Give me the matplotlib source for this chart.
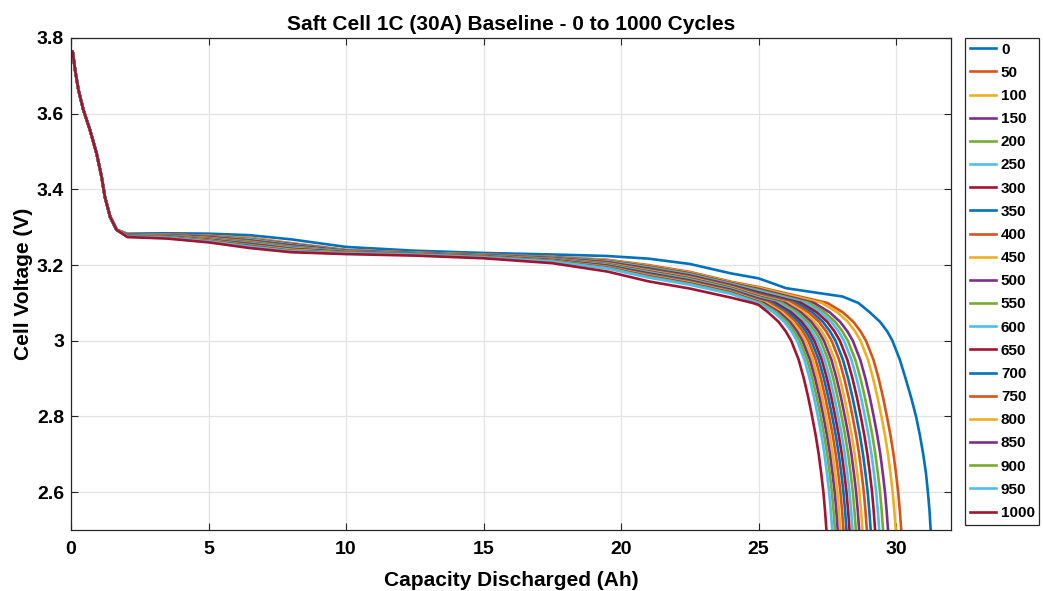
import matplotlib.pyplot as plt
import numpy as np

plt.rcParams['font.family'] = ['Liberation Sans', 'DejaVu Sans']
plt.rcParams['font.weight'] = 'bold'

cycles = [0, 50, 100, 150, 200, 250, 300, 350, 400, 450, 500,
          550, 600, 650, 700, 750, 800, 850, 900, 950, 1000]
colors = ['#0072BD', '#D95319', '#EDB120', '#7E2F8E', '#77AC30', '#4DBEEE', '#A2142F']

# start of the discharge, same for every cycle
head_cap = [0, 0.06, 0.15, 0.27, 0.45, 0.69, 0.93, 1.11, 1.23, 1.42, 1.66]
head_volt = [3.765, 3.764, 3.715, 3.663, 3.610, 3.557, 3.495, 3.434, 3.381, 3.328, 3.293]

# plateau: voltage of each cycle at these capacities (Ah)
plateau_caps = [2.05, 3.5, 5, 6.5, 8, 10, 12.5, 15, 17.5, 19.5, 21, 22.5, 24, 25]
v_2ah = [3.283, 3.282, 3.282, 3.281, 3.281, 3.280, 3.280, 3.280, 3.279, 3.279, 3.279,
         3.278, 3.278, 3.277, 3.277, 3.277, 3.276, 3.276, 3.275, 3.275, 3.274]
v_3ah = [3.284, 3.281, 3.2805, 3.280, 3.2795, 3.279, 3.2785, 3.278, 3.2775, 3.277, 3.2765,
         3.276, 3.2755, 3.275, 3.2745, 3.274, 3.2735, 3.273, 3.2725, 3.272, 3.270]
v_5ah = [3.283, 3.278, 3.277, 3.276, 3.275, 3.274, 3.274, 3.273, 3.272, 3.271, 3.270,
         3.269, 3.268, 3.267, 3.266, 3.266, 3.265, 3.264, 3.263, 3.262, 3.260]
v_6ah = [3.279, 3.272, 3.271, 3.269, 3.268, 3.267, 3.265, 3.264, 3.263, 3.261, 3.260,
         3.259, 3.257, 3.256, 3.255, 3.253, 3.252, 3.251, 3.249, 3.248, 3.245]
v_8ah = [3.268, 3.258, 3.257, 3.256, 3.254, 3.253, 3.252, 3.251, 3.249, 3.248, 3.247,
         3.246, 3.245, 3.243, 3.242, 3.241, 3.240, 3.238, 3.237, 3.236, 3.234]
v_10ah = [3.248, 3.240, 3.2395, 3.239, 3.2385, 3.238, 3.2375, 3.237, 3.2365, 3.236, 3.2355,
          3.235, 3.2345, 3.234, 3.2335, 3.233, 3.2325, 3.232, 3.2315, 3.231, 3.229]
v_12ah = [3.238, 3.233, 3.2327, 3.2323, 3.232, 3.2317, 3.2313, 3.231, 3.2307, 3.2303, 3.230,
          3.2297, 3.2293, 3.229, 3.2287, 3.2283, 3.228, 3.2277, 3.2273, 3.227, 3.225]
v_15ah = [3.232, 3.228, 3.2276, 3.2271, 3.2267, 3.2262, 3.2258, 3.2253, 3.2249, 3.2244, 3.224,
          3.2236, 3.2231, 3.2227, 3.2222, 3.2218, 3.2213, 3.2209, 3.2204, 3.220, 3.218]
v_17ah = [3.228, 3.222, 3.2213, 3.2206, 3.2198, 3.2191, 3.2184, 3.2177, 3.2169, 3.2162, 3.2155,
          3.2148, 3.2141, 3.2133, 3.2126, 3.2119, 3.2112, 3.2104, 3.2097, 3.209, 3.205]
v_19ah = [3.224, 3.214, 3.2127, 3.2114, 3.2102, 3.2089, 3.2076, 3.2063, 3.2051, 3.2038, 3.2025,
          3.2012, 3.1999, 3.1987, 3.1974, 3.1961, 3.1948, 3.1936, 3.1923, 3.191, 3.183]
v_21ah = [3.217, 3.200, 3.1982, 3.1963, 3.1945, 3.1927, 3.1908, 3.189, 3.1872, 3.1853, 3.1835,
          3.1817, 3.1798, 3.178, 3.1762, 3.1743, 3.1725, 3.1707, 3.1688, 3.167, 3.157]
v_22ah = [3.203, 3.182, 3.1801, 3.1782, 3.1763, 3.1744, 3.1726, 3.1707, 3.1688, 3.1669, 3.165,
          3.1631, 3.1612, 3.1593, 3.1574, 3.1556, 3.1537, 3.1518, 3.1499, 3.148, 3.138]
v_24ah = [3.178, 3.156, 3.1542, 3.1524, 3.1507, 3.1489, 3.1471, 3.1453, 3.1436, 3.1418, 3.140,
          3.1382, 3.1364, 3.1347, 3.1329, 3.1311, 3.1293, 3.1276, 3.1258, 3.124, 3.114]
v_25ah = [3.165, 3.142, 3.140, 3.137, 3.134, 3.131, 3.128, 3.125, 3.122, 3.119, 3.117,
          3.115, 3.113, 3.111, 3.109, 3.107, 3.105, 3.103, 3.101, 3.099, 3.095]
plateau_volts = [v_2ah, v_3ah, v_5ah, v_6ah, v_8ah, v_10ah, v_12ah, v_15ah, v_17ah,
                 v_19ah, v_21ah, v_22ah, v_24ah, v_25ah]

# cycle 0 keeps a shoulder past 25 Ah
shoulder_cap = [26.0, 27.2, 28.05]
shoulder_volt = [3.139, 3.126, 3.117]

# tail: capacity (Ah) where each cycle reaches these voltages
tail_volts = [3.10, 3.075, 3.05, 3.025, 3.0, 2.95, 2.9, 2.85, 2.8, 2.75, 2.7, 2.65,
              2.6, 2.55, 2.5]
cap_310 = [28.63, 27.50, 27.30, 27.02, 26.84, 26.70, 26.55, 26.39, 26.25, 26.09, 25.97,
           25.85, 25.73, 25.62, 25.51, 25.40, 25.29, 25.19, 25.09, 24.99, 24.78]
cap_3075 = [29.05, 28.07, 27.87, 27.59, 27.41, 27.27, 27.12, 26.96, 26.82, 26.66, 26.54,
            26.42, 26.30, 26.19, 26.08, 25.97, 25.86, 25.76, 25.66, 25.56, 25.35]
cap_305 = [29.42, 28.45, 28.25, 27.97, 27.79, 27.65, 27.50, 27.34, 27.20, 27.04, 26.92,
           26.80, 26.68, 26.57, 26.46, 26.35, 26.24, 26.14, 26.04, 25.94, 25.73]
cap_3025 = [29.68, 28.71, 28.51, 28.23, 28.05, 27.91, 27.76, 27.60, 27.46, 27.30, 27.18,
            27.06, 26.94, 26.83, 26.72, 26.61, 26.50, 26.40, 26.30, 26.20, 25.99]
cap_300 = [29.87, 28.91, 28.71, 28.43, 28.25, 28.11, 27.96, 27.80, 27.66, 27.50, 27.38,
           27.26, 27.14, 27.03, 26.92, 26.81, 26.70, 26.60, 26.50, 26.40, 26.19]
cap_295 = [30.14, 29.18, 28.98, 28.70, 28.52, 28.38, 28.23, 28.07, 27.93, 27.77, 27.65,
           27.53, 27.41, 27.30, 27.19, 27.08, 26.97, 26.87, 26.77, 26.67, 26.46]
cap_290 = [30.35, 29.37, 29.17, 28.89, 28.71, 28.57, 28.42, 28.26, 28.12, 27.96, 27.84,
           27.72, 27.60, 27.49, 27.38, 27.27, 27.16, 27.06, 26.96, 26.86, 26.65]
cap_285 = [30.55, 29.53, 29.33, 29.05, 28.87, 28.73, 28.58, 28.42, 28.28, 28.12, 28.00,
           27.88, 27.76, 27.65, 27.54, 27.43, 27.32, 27.22, 27.12, 27.02, 26.81]
cap_280 = [30.73, 29.67, 29.47, 29.19, 29.01, 28.87, 28.72, 28.56, 28.42, 28.26, 28.14,
           28.02, 27.90, 27.79, 27.68, 27.57, 27.46, 27.36, 27.26, 27.16, 26.95]
cap_275 = [30.87, 29.80, 29.60, 29.32, 29.14, 29.00, 28.85, 28.69, 28.55, 28.39, 28.27,
           28.15, 28.03, 27.92, 27.81, 27.70, 27.59, 27.49, 27.39, 27.29, 27.08]
cap_270 = [30.99, 29.91, 29.71, 29.43, 29.25, 29.11, 28.96, 28.80, 28.66, 28.50, 28.38,
           28.26, 28.14, 28.03, 27.92, 27.81, 27.70, 27.60, 27.50, 27.40, 27.19]
cap_265 = [31.09, 30.00, 29.80, 29.52, 29.34, 29.20, 29.05, 28.89, 28.75, 28.59, 28.47,
           28.35, 28.23, 28.12, 28.01, 27.90, 27.79, 27.69, 27.59, 27.49, 27.28]
cap_260 = [31.16, 30.08, 29.88, 29.60, 29.42, 29.28, 29.13, 28.97, 28.83, 28.67, 28.55,
           28.43, 28.31, 28.20, 28.09, 27.98, 27.87, 27.77, 27.67, 27.57, 27.36]
cap_255 = [31.22, 30.14, 29.94, 29.66, 29.48, 29.34, 29.19, 29.03, 28.89, 28.73, 28.61,
           28.49, 28.37, 28.26, 28.15, 28.04, 27.93, 27.83, 27.73, 27.63, 27.42]
cap_250 = [31.26, 30.19, 29.99, 29.71, 29.53, 29.39, 29.24, 29.08, 28.94, 28.78, 28.66,
           28.54, 28.42, 28.31, 28.20, 28.09, 27.98, 27.88, 27.78, 27.68, 27.47]
tail_caps = [cap_310, cap_3075, cap_305, cap_3025, cap_300, cap_295, cap_290, cap_285,
             cap_280, cap_275, cap_270, cap_265, cap_260, cap_255, cap_250]

fig = plt.figure(figsize=(10.43, 5.91), dpi=100)
ax = fig.add_axes([71 / 1043, 61 / 591, 880 / 1043, 492 / 591])

for i, cyc in enumerate(cycles):
    x = head_cap + plateau_caps + [c[i] for c in tail_caps]
    y = head_volt + [v[i] for v in plateau_volts] + tail_volts
    if cyc == 0:
        x = x + shoulder_cap
        y = y + shoulder_volt
    order = np.argsort(x)
    ax.plot(np.array(x)[order], np.array(y)[order], color=colors[i % len(colors)],
            lw=1.9, label=str(cyc), solid_joinstyle='round')

ax.set_xlim(0, 32)
ax.set_ylim(2.5, 3.8)
ax.set_xticks([0, 5, 10, 15, 20, 25, 30])
ax.set_yticks([2.6, 2.8, 3.0, 3.2, 3.4, 3.6, 3.8])
ax.set_yticklabels(['2.6', '2.8', '3', '3.2', '3.4', '3.6', '3.8'])
ax.grid(True, color='#e3e3e3', lw=0.9)
ax.set_axisbelow(True)
ax.tick_params(direction='in', top=True, right=True, length=5, width=0.8,
               color='#262626', labelsize=14)
ax.tick_params(axis='x', pad=8)
ax.tick_params(axis='y', pad=5)
for s in ax.spines.values():
    s.set_color('#262626')
    s.set_linewidth(0.9)

ax.set_title('Saft Cell 1C (30A) Baseline - 0 to 1000 Cycles', fontsize=15,
             fontweight='bold', pad=6)
ax.set_xlabel('Capacity Discharged (Ah)', fontsize=15, fontweight='bold', labelpad=9)
ax.set_ylabel('Cell Voltage (V)', fontsize=15, fontweight='bold', labelpad=3)

leg = ax.legend(loc='upper left', bbox_to_anchor=(965 / 1043, 1 - 38 / 591),
                bbox_transform=fig.transFigure, borderaxespad=0, fontsize=11,
                handlelength=1.75, handletextpad=0.3, labelspacing=0.6,
                borderpad=0.3, fancybox=False, framealpha=1, edgecolor='#262626')
leg.get_frame().set_linewidth(0.9)

fig.savefig('out.png', dpi=100)
